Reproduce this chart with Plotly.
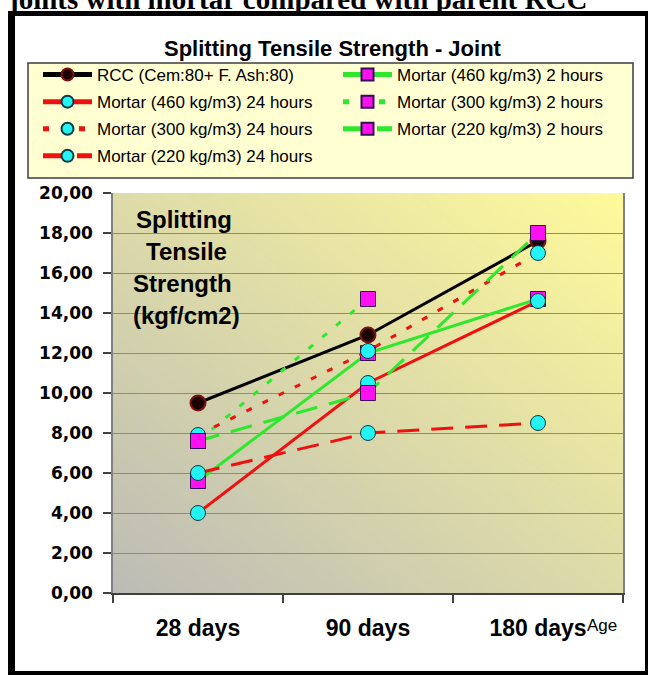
import base64
import struct
import zlib

import plotly.graph_objects as go

# ---- data -------------------------------------------------------------
ages = ["28 days", "90 days", "180 days"]

rcc = [9.5, 12.9, 17.6]
mortar_460_24h = [4.0, 10.5, 14.6]
mortar_300_24h = [7.9, 12.1, 17.0]
mortar_220_24h = [6.0, 8.0, 8.5]
mortar_460_2h = [5.6, 12.0, 14.7]
mortar_300_2h = [7.6, 14.7, None]
mortar_220_2h = [7.6, 10.0, 18.0]

y_ticks = [0, 2, 4, 6, 8, 10, 12, 14, 16, 18, 20]

# ---- page geometry (pixels) -------------------------------------------
W, H = 648, 675
PLOT_L, PLOT_R, PLOT_T, PLOT_B = 113, 623, 193, 593


def px(x):
    return x / W


def py(y):
    return 1 - y / H


# ---- diagonal grey -> yellow fill for the plotting area ---------------
def gradient_png(w, h, c0, c1):
    rows = []
    for j in range(h):
        v = j / (h - 1)
        row = bytearray([0])
        for i in range(w):
            u = i / (w - 1)
            t = 0.5 * u + 0.5 * (1 - v)
            row += bytes(int(round(a + (b - a) * t)) for a, b in zip(c0, c1))
        rows.append(bytes(row))
    raw = b"".join(rows)

    def chunk(tag, data):
        return (struct.pack(">I", len(data)) + tag + data
                + struct.pack(">I", zlib.crc32(tag + data) & 0xFFFFFFFF))

    png = (b"\x89PNG\r\n\x1a\n"
           + chunk(b"IHDR", struct.pack(">IIBBBBB", w, h, 8, 2, 0, 0, 0))
           + chunk(b"IDAT", zlib.compress(raw, 9))
           + chunk(b"IEND", b""))
    return "data:image/png;base64," + base64.b64encode(png).decode()


bg_src = gradient_png(120, 96, (188, 188, 182), (255, 250, 155))

# ---- styles -----------------------------------------------------------
RED = "#f01010"
GREEN = "#2ee82e"
SHORT = "6px,12px"
LONG = "22px,12px"

rcc_marker = dict(symbol="circle", size=15, color="#1c0000",
                  line=dict(color="#7a1414", width=2))
cyan_marker = dict(symbol="circle", size=15, color="#22f4f4",
                   line=dict(color="#0a3a44", width=1))
mag_marker = dict(symbol="square", size=15, color="#ff10f0",
                  line=dict(color="#3a0a5a", width=1))

# drawing order also decides which marker sits on top where they overlap
series = [
    ("RCC (Cem:80+ F. Ash:80)", rcc, "#000000", "solid", rcc_marker, "legend"),
    ("Mortar (460 kg/m3) 2 hours", mortar_460_2h, GREEN, "solid", mag_marker, "legend2"),
    ("Mortar (460 kg/m3) 24 hours", mortar_460_24h, RED, "solid", cyan_marker, "legend"),
    ("Mortar (300 kg/m3) 2 hours", mortar_300_2h, GREEN, SHORT, mag_marker, "legend2"),
    ("Mortar (300 kg/m3) 24 hours", mortar_300_24h, RED, SHORT, cyan_marker, "legend"),
    ("Mortar (220 kg/m3) 2 hours", mortar_220_2h, GREEN, LONG, mag_marker, "legend2"),
    ("Mortar (220 kg/m3) 24 hours", mortar_220_24h, RED, LONG, cyan_marker, "legend"),
]

fig = go.Figure()
for i, (name, vals, color, dash, marker, leg) in enumerate(series):
    fig.add_trace(go.Scatter(
        x=ages, y=vals, name=name, mode="lines+markers",
        line=dict(color=color, width=3, dash=dash),
        marker=marker, legend=leg, legendgroup=f"g{i}",
        connectgaps=False,
    ))

ARIAL = "Liberation Sans, Arial, sans-serif"
legend_style = dict(
    xanchor="left", yanchor="top",
    bgcolor="rgba(0,0,0,0)", borderwidth=0,
    font=dict(family=ARIAL, size=17, color="#000000"),
    itemwidth=49, itemsizing="constant",
    traceorder="grouped", tracegroupgap=2,
    orientation="v",
)

shapes = [
    # legend box
    dict(type="rect", xref="paper", yref="paper",
         x0=px(28), x1=px(633), y0=py(178), y1=py(63),
         fillcolor="#ffffd2", line=dict(color="#3c3c3c", width=1.5),
         layer="below"),
    # heavy outer frame
    dict(type="rect", xref="paper", yref="paper",
         x0=px(8), x1=px(15), y0=py(675), y1=py(11),
         fillcolor="#000000", line=dict(width=0)),
    dict(type="rect", xref="paper", yref="paper",
         x0=px(8), x1=px(648), y0=py(16), y1=py(11),
         fillcolor="#000000", line=dict(width=0)),
    dict(type="rect", xref="paper", yref="paper",
         x0=px(8), x1=px(648), y0=py(675), y1=py(671),
         fillcolor="#000000", line=dict(width=0)),
    dict(type="rect", xref="paper", yref="paper",
         x0=px(645), x1=px(648), y0=py(675), y1=py(11),
         fillcolor="#000000", line=dict(width=0)),
]

annotations = [
    dict(text="joints with mortar compared with parent RCC",
         xref="paper", yref="paper", x=px(297), y=py(-1),
         xanchor="center", yanchor="middle", showarrow=False,
         font=dict(family="Liberation Serif, Times New Roman, serif",
                   size=29, color="#000000", weight="bold")),
    dict(text="Splitting Tensile Strength - Joint",
         xref="paper", yref="paper", x=px(333), y=py(48),
         xanchor="center", yanchor="middle", showarrow=False,
         font=dict(family=ARIAL, size=22, color="#000000", weight="bold")),
    dict(text="Age",
         xref="paper", yref="paper", x=px(602), y=py(625),
         xanchor="center", yanchor="middle", showarrow=False,
         font=dict(family=ARIAL, size=17, color="#000000")),
]

# axis caption inside the plot, one line at a time for Excel-like spacing
caption_lines = ["Splitting", "Tensile", "Strength", "(kgf/cm2)"]
caption_y = [219, 251, 283, 315]
caption_x = [184, 186, 183, 186]
for text, cy, cx in zip(caption_lines, caption_y, caption_x):
    annotations.append(dict(
        text=text, xref="paper", yref="paper", x=px(cx), y=py(cy),
        xanchor="center", yanchor="middle", showarrow=False,
        font=dict(family=ARIAL, size=24, color="#000000", weight="bold")))

fig.update_layout(
    width=W, height=H,
    margin=dict(l=0, r=0, t=0, b=0, autoexpand=False),
    paper_bgcolor="#ffffff",
    plot_bgcolor="rgba(0,0,0,0)",
    separators=",.",
    showlegend=True,
    legend=dict(legend_style, x=px(38), y=py(57)),
    legend2=dict(legend_style, x=px(338), y=py(57)),
    images=[dict(source=bg_src, xref="paper", yref="paper",
                 x=px(PLOT_L), y=py(PLOT_T),
                 sizex=(PLOT_R - PLOT_L) / W, sizey=(PLOT_B - PLOT_T) / H,
                 xanchor="left", yanchor="top", sizing="stretch",
                 layer="below")],
    shapes=shapes,
    annotations=annotations,
    xaxis=dict(
        domain=[px(PLOT_L), px(PLOT_R)],
        type="category", categoryorder="array", categoryarray=ages,
        range=[-0.5, 2.5], tickson="boundaries",
        ticks="outside", ticklen=8, tickwidth=1.5, tickcolor="#404040",
        showline=True, linecolor="#404040", linewidth=1.5,
        showgrid=False, zeroline=False, automargin=False,
        ticklabelstandoff=14,
        tickfont=dict(family=ARIAL, size=23, color="#000000", weight="bold"),
    ),
    yaxis=dict(
        domain=[py(PLOT_B), py(PLOT_T)],
        range=[0, 20], tickmode="array", tickvals=y_ticks,
        tickformat=".2f",
        ticks="outside", ticklen=8, tickwidth=1.5, tickcolor="#404040",
        showline=True, linecolor="#808080", linewidth=1.5, mirror=True,
        showgrid=True, gridcolor="#8a8a8a", gridwidth=1,
        zeroline=False, automargin=False,
        ticklabelstandoff=7,
        tickfont=dict(family="DejaVu Sans, sans-serif", size=17,
                      color="#000000", weight="bold"),
    ),
)

# the page body keeps no default margin so the figure fills the window
fig.write_html(
    "out.html",
    post_script="document.body.style.margin='0';"
                "document.body.style.overflow='hidden';",
)
